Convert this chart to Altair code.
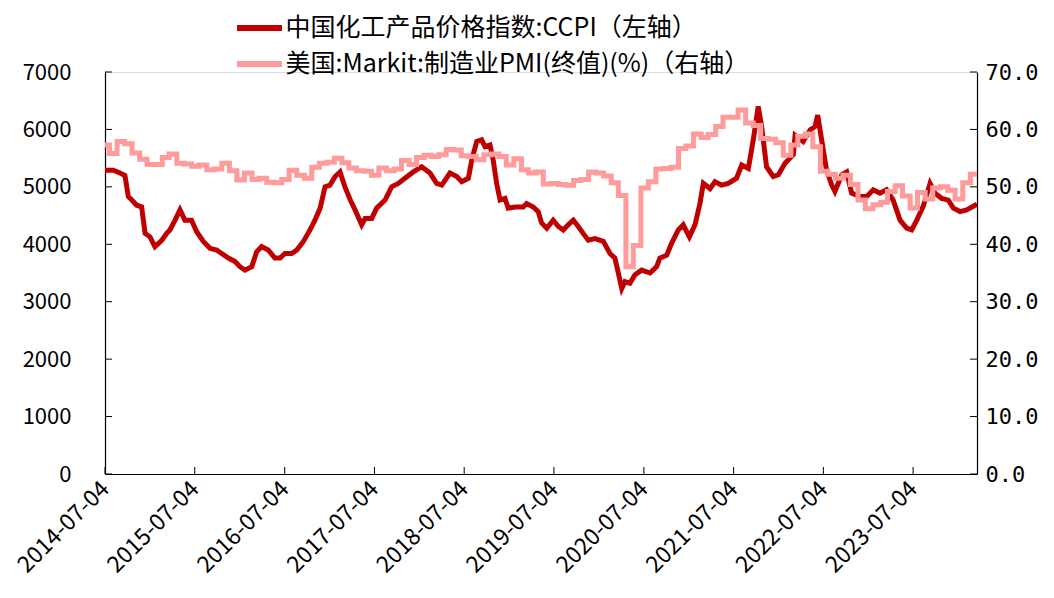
import altair as alt
import pandas as pd

S1 = "中国化工产品价格指数:CCPI（左轴）"
S2 = "美国:Markit:制造业PMI(终值)(%)（右轴）"

ccpi_dates = [
    "2014-07-04","2014-08-07","2014-09-03","2014-09-23","2014-10-07","2014-10-21","2014-11-10","2014-11-30",
    "2014-12-14","2015-01-03","2015-01-23","2015-02-20","2015-03-12","2015-03-25","2015-04-15","2015-05-05",
    "2015-05-25","2015-06-21","2015-07-12","2015-08-08","2015-09-04","2015-10-01","2015-11-18","2015-12-15",
    "2016-01-04","2016-01-24","2016-02-21","2016-03-12","2016-04-01","2016-04-28","2016-05-25","2016-06-15",
    "2016-07-05","2016-08-01","2016-08-22","2016-09-18","2016-10-15","2016-11-04","2016-11-25","2016-12-15",
    "2017-01-04","2017-01-25","2017-02-14","2017-03-06","2017-03-27","2017-04-16","2017-05-13","2017-05-27",
    "2017-06-23","2017-07-13","2017-08-16","2017-09-12","2017-10-09","2017-11-05","2017-12-09","2018-01-12",
    "2018-02-15","2018-03-14","2018-04-04","2018-05-07","2018-06-04","2018-06-24","2018-07-21","2018-08-04",
    "2018-08-24","2018-09-13","2018-09-27","2018-10-17","2018-10-30","2018-11-13","2018-11-27","2018-12-17",
    "2018-12-30","2019-01-27","2019-03-01","2019-03-15","2019-04-11","2019-05-01","2019-05-15","2019-06-05",
    "2019-07-01","2019-07-22","2019-08-11","2019-08-31","2019-09-21","2019-10-11","2019-10-31","2019-11-21",
    "2019-12-18","2020-01-21","2020-02-17","2020-03-08","2020-03-22","2020-04-05","2020-04-18","2020-05-08",
    "2020-05-29","2020-06-25","2020-07-29","2020-08-25","2020-09-07","2020-10-05","2020-10-25","2020-11-21",
    "2020-12-11","2021-01-05","2021-01-28","2021-02-17","2021-03-03","2021-03-30","2021-04-19","2021-05-16",
    "2021-06-12","2021-07-16","2021-08-06","2021-09-02","2021-09-22","2021-10-12","2021-10-26","2021-11-15",
    "2021-12-12","2022-01-02","2022-01-29","2022-03-04","2022-03-11","2022-04-13","2022-05-11","2022-05-31",
    "2022-06-11","2022-06-27","2022-07-17","2022-08-07","2022-08-20","2022-09-17","2022-10-07","2022-10-27",
    "2022-11-30","2022-12-27","2023-01-23","2023-02-19","2023-03-18","2023-04-14","2023-05-12","2023-06-08",
    "2023-06-28","2023-07-19","2023-08-14","2023-09-11","2023-10-01","2023-10-28","2023-11-24","2023-12-15",
    "2024-01-11","2024-02-07","2024-03-12","2024-03-20",
]
ccpi_values = [
    5290, 5290, 5240, 5200, 4830, 4770, 4680, 4650,
    4190, 4130, 3960, 4070, 4190, 4250, 4420, 4600,
    4420, 4420, 4220, 4050, 3930, 3900, 3760, 3700,
    3610, 3550, 3610, 3870, 3960, 3900, 3760, 3760,
    3840, 3840, 3900, 4050, 4250, 4420, 4630, 5000,
    5030, 5180, 5260, 5000, 4780, 4600, 4340, 4450,
    4450, 4630, 4770, 5000, 5060, 5150, 5260, 5350,
    5240, 5060, 5030, 5240, 5180, 5090, 5150, 5470,
    5790, 5820, 5700, 5730, 5470, 5060, 4770, 4800,
    4630, 4650, 4650, 4710, 4650, 4570, 4370, 4280,
    4420, 4310, 4250, 4340, 4420, 4310, 4190, 4070,
    4100, 4050, 3840, 3760, 3500, 3230, 3350, 3320,
    3470, 3550, 3500, 3610, 3760, 3810, 4020, 4250,
    4340, 4130, 4340, 4710, 5060, 4970, 5090, 5030,
    5060, 5150, 5380, 5320, 5820, 6400, 6050, 5350,
    5180, 5210, 5410, 5560, 5900, 5790, 5990, 6050,
    6250, 5820, 5290, 5030, 4920, 5210, 5260, 4890,
    4830, 4830, 4950, 4890, 4950, 4770, 4420, 4280,
    4250, 4420, 4660, 5060, 4890, 4800, 4770, 4630,
    4570, 4600, 4680, 4700,
]

# Monthly PMI, 2014-06 .. 2024-02
pmi_values = [
    57.3, 55.8, 57.9, 57.5, 55.9, 54.8, 53.9,
    53.9, 55.1, 55.7, 54.1, 54.0, 53.6, 53.8, 53.0, 53.1, 54.1, 52.8, 51.2,
    52.4, 51.3, 51.5, 50.8, 50.7, 51.3, 52.9, 52.0, 51.5, 53.4, 54.1, 54.3,
    55.0, 54.2, 53.3, 52.8, 52.7, 52.0, 53.3, 52.8, 53.1, 54.6, 53.9, 55.1,
    55.5, 55.3, 55.6, 56.5, 56.4, 55.4, 55.3, 54.7, 55.6, 55.7, 55.3, 53.8,
    54.9, 53.0, 52.4, 52.6, 50.5, 50.6, 50.4, 50.3, 51.1, 51.3, 52.6, 52.4,
    51.9, 50.7, 48.5, 36.1, 39.8, 49.8, 50.9, 53.1, 53.2, 53.4, 56.7, 57.1,
    59.2, 58.6, 59.1, 60.5, 62.1, 62.1, 63.4, 61.1, 60.7, 58.4, 58.3, 57.7,
    55.5, 57.3, 58.8, 59.2, 57.0, 52.7, 52.2, 51.5, 52.0, 50.4, 47.7, 46.2,
    46.9, 47.3, 49.2, 50.2, 48.4, 46.3, 49.0, 47.9, 49.8, 50.0, 49.4, 47.9,
    50.7, 52.2,
]
pmi_dates = (pd.date_range("2014-06-01", periods=len(pmi_values), freq="MS")
             + pd.Timedelta(days=21)).strftime("%Y-%m-%d").tolist()
pmi_dates.append("2024-03-20")
pmi_values = pmi_values + [pmi_values[-1]]

tick_dates = ["2014-07-04", "2015-07-04", "2016-07-04", "2017-07-04", "2018-07-04",
              "2019-07-04", "2020-07-04", "2021-07-04", "2022-07-04", "2023-07-04"]
left_ticks = [0, 1000, 2000, 3000, 4000, 5000, 6000, 7000]
right_ticks = [0, 10, 20, 30, 40, 50, 60, 70]

df1 = pd.DataFrame({"date": ccpi_dates, "v": ccpi_values, "series": S1})
df2 = pd.DataFrame({"date": pmi_dates, "v": pmi_values, "series": S2})
dft = pd.DataFrame({"date": tick_dates})
dfl = pd.DataFrame({"v": left_ticks})
dfr = pd.DataFrame({"v": right_ticks})

W, H = 872, 402
FONT = "Noto Sans CJK SC"

xdom = [alt.DateTime(year=2014, month=7, date=4, utc=True),
        alt.DateTime(year=2024, month=3, date=20, utc=True)]
xvals = [alt.DateTime(year=y, month=7, date=4, utc=True) for y in range(2014, 2024)]

xaxis = alt.Axis(values=xvals, format="%Y-%m-%d", labelAngle=315, labelAlign="right",
                 labelBaseline="middle", labelPadding=11, labelFontSize=23, ticks=False,
                 grid=False, domainColor="#000000", domainWidth=1.2, labelColor="#000000",
                 labelFont=FONT, title=None, labelOverlap=False)
xscale = alt.Scale(type="utc", domain=xdom)

color = alt.Color("series:N",
                  scale=alt.Scale(domain=[S1, S2], range=["#C00000", "#FF9B9B"]),
                  legend=alt.Legend(orient="none", legendX=136.5, legendY=-62, title=None,
                                    symbolType="M-1.5,0H1.5", symbolStrokeWidth=6, symbolSize=900,
                                    labelFontSize=25, labelFont=FONT, labelColor="#000000",
                                    labelLimit=900, rowPadding=5, labelOffset=8))

ccpi = alt.Chart(df1).mark_line(strokeWidth=5, clip=True).encode(
    x=alt.X("date:T", scale=xscale, axis=xaxis),
    y=alt.Y("v:Q", scale=alt.Scale(domain=[0, 7000], nice=False),
            axis=alt.Axis(orient="left", values=left_ticks, format="d", ticks=False, tickSize=0,
                          labelPadding=34, labelFontSize=22, labelFont=FONT, labelColor="#000000",
                          grid=False, domainColor="#000000", domainWidth=1.2, title=None)),
    color=color,
)

pmi = alt.Chart(df2).mark_line(strokeWidth=5, interpolate="step-after", clip=True).encode(
    x=alt.X("date:T", scale=xscale, axis=xaxis),
    y=alt.Y("v:Q", scale=alt.Scale(domain=[0, 70], nice=False),
            axis=alt.Axis(orient="right", values=right_ticks, format=".1f", ticks=False, tickSize=0,
                          labelPadding=8, labelFontSize=22, labelFont="DejaVu Sans Mono",
                          labelColor="#000000",
                          grid=False, domainColor="#000000", domainWidth=1.2, title=None)),
    color=color,
)

xt = alt.Chart(dft).mark_rule(color="#000000", strokeWidth=1).encode(
    x=alt.X("date:T", scale=xscale, axis=xaxis),
    y=alt.value(H), y2=alt.value(H - 7),
)
lt = alt.Chart(dfl).mark_rule(color="#000000", strokeWidth=1).encode(
    y=alt.Y("v:Q", scale=alt.Scale(domain=[0, 7000], nice=False), axis=None),
    x=alt.value(0), x2=alt.value(7),
)
rt = alt.Chart(dfr).mark_rule(color="#000000", strokeWidth=1).encode(
    y=alt.Y("v:Q", scale=alt.Scale(domain=[0, 70], nice=False), axis=None),
    x=alt.value(W - 7), x2=alt.value(W),
)

chart = alt.layer(ccpi, pmi, xt, lt, rt).resolve_scale(y="independent").properties(
    width=W, height=H,
    autosize=alt.AutoSizeParams(type="none"),
    padding={"left": 97, "top": 64, "right": 66, "bottom": 112},
).configure_view(stroke=None).configure(font=FONT, background="#ffffff")

chart.save("out.html", embed_options={"renderer": "svg", "actions": False})
